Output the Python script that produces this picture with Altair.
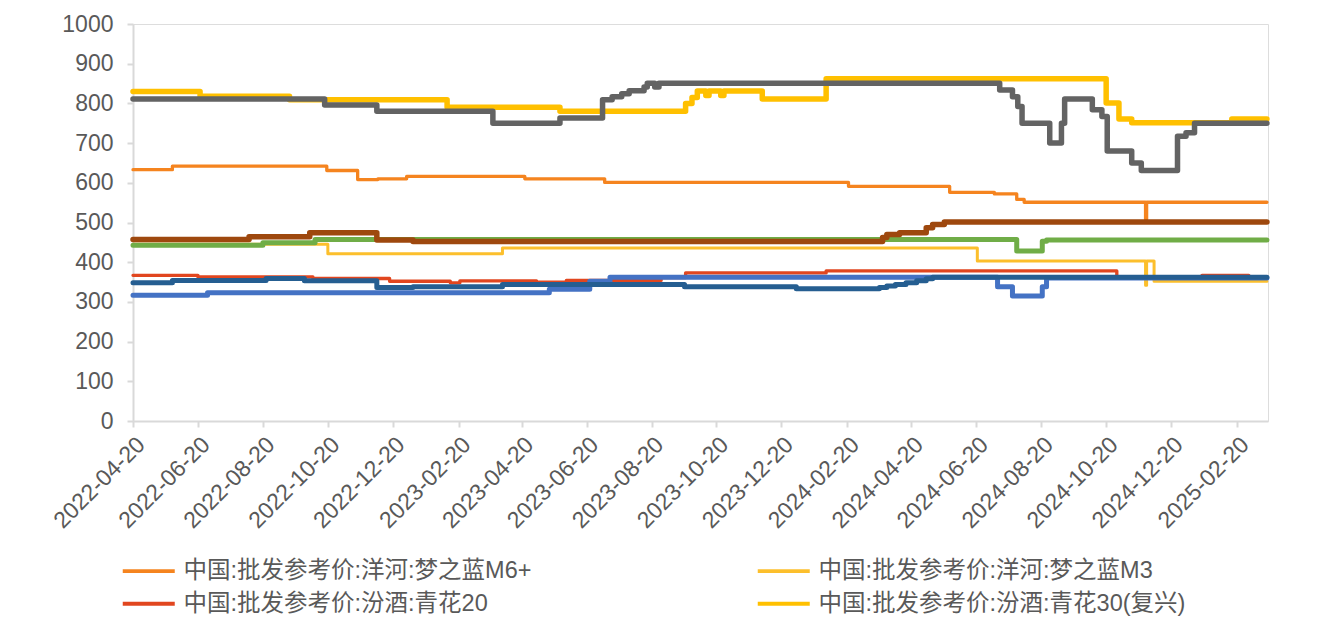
import altair as alt
import pandas as pd

# ---------------- data ----------------
series_names = [
    "中国:批发参考价:洋河:梦之蓝M6+",
    "中国:批发参考价:洋河:梦之蓝M3",
    "中国:批发参考价:汾酒:青花20",
    "中国:批发参考价:汾酒:青花30(复兴)",
    "系列5",
    "系列6",
    "系列7",
    "系列8",
    "系列9",
]

m6_dates = ["2022-04-20", "2022-05-27", "2022-10-19", "2022-11-17", "2022-12-06", "2023-01-02",
            "2023-04-23", "2023-07-07", "2024-02-21", "2024-05-26", "2024-07-07", "2024-07-28",
            "2024-08-04", "2024-11-26", "2024-11-27", "2025-03-20"]
m6_vals = [633, 642, 631, 608, 610, 616, 610, 601, 591, 576, 572, 558, 551, 508, 551, 551]

m3_dates = ["2022-04-20", "2022-10-20", "2023-04-02", "2024-06-21", "2024-11-26", "2024-11-27",
            "2024-12-04", "2025-03-20"]
m3_vals = [445, 421, 436, 403, 342, 403, 352, 352]

q20_dates = ["2022-04-20", "2022-06-20", "2022-10-06", "2022-12-17", "2023-02-12", "2023-02-21",
             "2023-05-04", "2023-06-01", "2023-08-29", "2023-09-21", "2024-01-31", "2024-10-30",
             "2025-01-18", "2025-03-03", "2025-03-20"]
q20_vals = [367, 363, 359, 352, 348, 353, 350, 354, 361, 373, 378, 362, 367, 362, 362]

q30_dates = ["2022-04-20", "2022-06-22", "2022-09-14", "2023-02-09", "2023-05-26", "2023-09-21",
             "2023-09-27", "2023-10-02", "2023-10-10", "2023-10-13", "2023-10-24", "2023-10-27",
             "2023-12-02", "2024-01-31", "2024-10-20", "2024-11-01", "2024-11-13", "2025-02-15",
             "2025-03-20"]
q30_vals = [830, 818, 809, 790, 780, 800, 815, 831, 820, 831, 820, 831, 811, 862, 801, 761, 751,
            761, 761]

s5_dates = ["2022-04-20", "2022-10-17", "2022-12-05", "2023-03-24", "2023-05-26", "2023-07-05",
            "2023-07-14", "2023-07-23", "2023-07-30", "2023-08-13", "2023-08-16", "2023-08-23",
            "2023-08-27", "2024-07-12", "2024-07-24", "2024-07-29", "2024-08-02", "2024-08-28",
            "2024-09-08", "2024-09-11", "2024-10-07", "2024-10-16", "2024-10-21", "2024-11-13",
            "2024-11-22", "2024-12-26", "2025-01-03", "2025-01-11", "2025-03-20"]
s5_vals = [811, 796, 780, 750, 763, 809, 817, 824, 832, 841, 851, 841, 851, 834, 817, 792, 750,
           700, 750, 811, 784, 767, 680, 650, 631, 717, 726, 750, 750]

s6_dates = ["2022-04-20", "2022-08-20", "2022-10-08", "2024-07-28", "2024-08-21", "2024-08-25",
            "2025-03-20"]
s6_vals = [443, 449, 457, 428, 453, 456, 456]

s7_dates = ["2022-04-20", "2022-08-07", "2022-10-03", "2022-12-05", "2023-01-08", "2024-03-24",
            "2024-03-28", "2024-04-09", "2024-05-04", "2024-05-10", "2024-05-21", "2025-03-20"]
s7_vals = [457, 464, 474, 456, 452, 462, 470, 474, 487, 495, 501, 501]

s8_dates = ["2022-04-20", "2022-06-29", "2023-05-16", "2023-06-23", "2023-07-12", "2024-07-10",
            "2024-07-24", "2024-08-21", "2024-08-25", "2025-03-20"]
s8_vals = [317, 323, 332, 352, 362, 338, 315, 338, 360, 360]

s9_dates = ["2022-04-20", "2022-05-27", "2022-08-23", "2022-09-28", "2022-12-05", "2023-01-08",
            "2023-04-02", "2023-09-20", "2024-01-03", "2024-03-21", "2024-03-28", "2024-04-05",
            "2024-04-15", "2024-04-25", "2024-05-04", "2024-05-10", "2025-03-20"]
s9_vals = [348, 354, 359, 353, 336, 338, 344, 338, 333, 336, 340, 344, 348, 353, 358, 362, 362]

tick_dates = [(2022, 4), (2022, 6), (2022, 8), (2022, 10), (2022, 12), (2023, 2), (2023, 4),
              (2023, 6), (2023, 8), (2023, 10), (2023, 12), (2024, 2), (2024, 4), (2024, 6),
              (2024, 8), (2024, 10), (2024, 12), (2025, 2)]
y_ticks = [0, 100, 200, 300, 400, 500, 600, 700, 800, 900, 1000]

# ---------------- styles ----------------
colors = ["#F5841F", "#FCBF2C", "#E1461F", "#FFC000", "#636363",
          "#70AD47", "#9E480E", "#4472C4", "#255E91"]
widths = [3.3, 3.0, 3.3, 5.5, 5.5, 5.0, 5.5, 5.0, 5.0]
FONT = "Liberation Sans, Arial, Noto Sans CJK SC, sans-serif"
TXT = "#595959"
AX = "#D9D9D9"

all_dates = [m6_dates, m3_dates, q20_dates, q30_dates, s5_dates, s6_dates, s7_dates, s8_dates, s9_dates]
all_vals = [m6_vals, m3_vals, q20_vals, q30_vals, s5_vals, s6_vals, s7_vals, s8_vals, s9_vals]

rows = []
for name, ds, vs in zip(series_names, all_dates, all_vals):
    for d, v in zip(ds, vs):
        rows.append({"series": name, "date": d, "value": v})
df = pd.DataFrame(rows)

x_enc = alt.X(
    "date:T",
    scale=alt.Scale(type="utc", domain=[alt.DateTime(year=2022, month=4, date=20, utc=True),
                                        alt.DateTime(year=2025, month=3, date=21, utc=True)]),
    axis=alt.Axis(
        values=[alt.DateTime(year=y, month=m, date=20, utc=True) for y, m in tick_dates],
        format="%Y-%m-%d", labelAngle=-45, labelFontSize=23, labelColor=TXT, labelFont=FONT,
        domainColor=AX, domainWidth=2, tickColor=AX, tickWidth=2, tickSize=6, grid=False,
        title=None, labelPadding=6, labelOverlap=False, labelFlush=False, labelBound=False,
    ),
)
y_enc = alt.Y(
    "value:Q",
    scale=alt.Scale(domain=[0, 1000], nice=False),
    axis=alt.Axis(
        values=y_ticks, format="d", labelFontSize=23, labelColor=TXT, labelFont=FONT,
        domainColor=AX, domainWidth=2, tickColor=AX, tickWidth=2, tickSize=6, grid=False,
        title=None, labelPadding=14,
    ),
)
color_enc = alt.Color(
    "series:N",
    scale=alt.Scale(domain=series_names, range=colors),
    legend=alt.Legend(
        orient="none", legendX=4, legendY=535, columns=2, direction="horizontal", title=None,
        values=series_names[:4], symbolType="M-5.2,0H5.2", symbolSize=100,
        symbolStrokeWidth=3.8, labelFontSize=23.5, labelFont=FONT, labelColor=TXT,
        labelOffset=23, columnPadding=218, rowPadding=8, padding=0, labelLimit=600,
    ),
)

layers = []
for name, w in zip(series_names, widths):
    layers.append(
        alt.Chart(df)
        .transform_filter(alt.datum.series == name)
        .mark_line(interpolate="step-after", strokeJoin="round", strokeCap="round", strokeWidth=w)
        .encode(x=x_enc, y=y_enc, color=color_enc)
    )

chart = (
    alt.layer(*layers)
    .properties(
        width=1135, height=397,
        autosize=alt.AutoSizeParams(type="none"),
        padding={"left": 125, "top": 16, "right": 20, "bottom": 196},
    )
    .configure_view(stroke=None)
    .configure(background="white")
)

chart.save("out.html", embed_options={"renderer": "svg", "actions": False})
